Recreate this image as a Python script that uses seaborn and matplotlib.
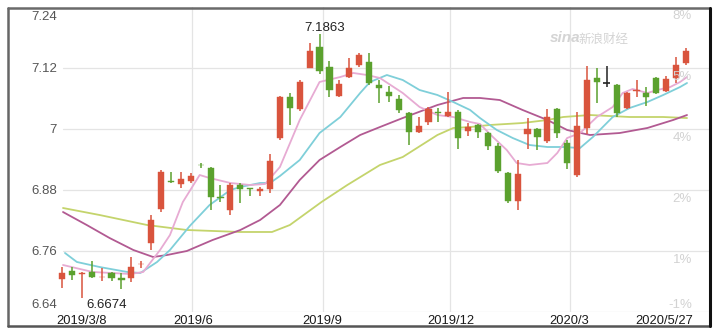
import matplotlib
matplotlib.use("Agg")
import matplotlib.pyplot as plt
from matplotlib.lines import Line2D
import seaborn as sns
import pandas as pd
import numpy as np

# ---------------- data ----------------
opens = [6.7049, 6.7207, 6.7148, 6.7187, 6.7080, 6.7167, 6.7069, 6.7069, 6.7335, 6.7757,
         6.8426, 6.8977, 6.8918, 6.8977, 6.9292, 6.9233, 6.8672, 6.8407, 6.8898, 6.8825,
         6.8790, 6.8820, 6.9823, 7.0630, 7.0393, 7.1200, 7.1613, 7.1220, 7.0649, 7.1023,
         7.1259, 7.1318, 7.0866, 7.0728, 7.0590, 7.0315, 6.9941, 7.0138, 7.0344, 7.0256,
         7.0334, 6.9961, 7.0079, 6.9921, 6.9666, 6.9134, 6.8584, 6.9902, 7.0000, 6.9764,
         7.0393, 6.9725, 6.9095, 7.0020, 7.1003, 7.0905, 7.0866, 7.0413, 7.0738, 7.0708,
         7.1003, 7.0748, 7.1003, 7.1298]
highs = [6.7285, 6.7285, 6.7187, 6.7403, 6.7266, 6.7187, 6.7167, 6.7482, 6.7403, 6.8308,
         6.9193, 6.9154, 6.9154, 6.9134, 6.9331, 6.9252, 6.8898, 6.8938, 6.8938, 6.8839,
         6.8859, 6.9508, 7.0649, 7.0708, 7.0964, 7.1692, 7.1863, 7.1338, 7.0964, 7.1397,
         7.1495, 7.1495, 7.0964, 7.0846, 7.0669, 7.0334, 7.0236, 7.0433, 7.0413, 7.0728,
         7.0374, 7.0118, 7.0098, 6.9941, 6.9725, 6.9154, 6.9390, 7.0216, 7.0020, 7.0393,
         7.0413, 6.9784, 7.0334, 7.1239, 7.1200, 7.1239, 7.0885, 7.0728, 7.0964, 7.0826,
         7.1023, 7.1043, 7.1416, 7.1593]
lows = [6.6872, 6.7030, 6.6674, 6.7069, 6.7010, 6.7010, 6.6852, 6.6990, 6.7266, 6.7620,
        6.8367, 6.8938, 6.8839, 6.8938, 6.9233, 6.8407, 6.8564, 6.8308, 6.8544, 6.8682,
        6.8682, 6.8741, 6.9784, 7.0079, 7.0354, 7.1200, 7.1082, 7.0630, 7.0630, 7.1003,
        7.1220, 7.0866, 7.0511, 7.0531, 7.0315, 6.9685, 6.9921, 7.0079, 7.0138, 7.0236,
        6.9607, 6.9862, 6.9823, 6.9587, 6.9134, 6.8544, 6.8407, 6.9607, 6.9587, 6.9725,
        6.9823, 6.9213, 6.9056, 6.9902, 7.0511, 7.0826, 7.0236, 7.0393, 7.0630, 7.0452,
        7.0689, 7.0728, 7.0905, 7.1259]
closes = [6.7167, 6.7128, 6.7167, 6.7089, 6.7095, 6.7069, 6.7030, 6.7285, 6.7345, 6.8210,
          6.9154, 6.8967, 6.9016, 6.9075, 6.9282, 6.8662, 6.8652, 6.8898, 6.8820, 6.8815,
          6.8810, 6.9371, 7.0630, 7.0413, 7.0925, 7.1534, 7.1141, 7.0767, 7.0885, 7.1200,
          7.1456, 7.0905, 7.0807, 7.0649, 7.0374, 6.9941, 7.0059, 7.0393, 7.0324, 7.0334,
          6.9823, 7.0039, 6.9941, 6.9666, 6.9174, 6.8584, 6.9115, 7.0000, 6.9843, 7.0236,
          6.9921, 6.9331, 7.0059, 7.0964, 7.0925, 7.0905, 7.0315, 7.0708, 7.0758, 7.0630,
          7.0708, 7.0984, 7.1259, 7.1534]

ma5_x = [0.1, 3.1, 6.9, 8.2, 9.9, 10.9, 12.2, 13.9, 14.9, 17.0, 19.0, 20.5, 22.0, 24.0, 26.0,
         28.1, 29.4, 30.8, 32.1, 34.4, 36.1, 37.9, 39.5, 41.2, 42.2, 43.5, 44.9, 45.9, 47.2,
         49.0, 50.0, 51.0, 52.3, 54.0, 55.6, 56.6, 57.6, 59.1, 60.1, 61.4, 62.4, 63.1]
ma5_y = [6.7325, 6.7187, 6.7148, 6.7187, 6.7620, 6.7915, 6.8564, 6.9095, 6.9036, 6.8938,
         6.8898, 6.8918, 6.9252, 7.0177, 7.0925, 7.1023, 7.1102, 7.1062, 7.1003, 7.0708,
         7.0433, 7.0275, 7.0236, 7.0138, 7.0098, 6.9843, 6.9587, 6.9331, 6.9292, 6.9331,
         6.9528, 6.9823, 6.9921, 7.0236, 7.0433, 7.0708, 7.0787, 7.0708, 7.0767, 7.0826,
         7.0925, 7.1023]

ma10_x = [0.3, 1.5, 3.8, 6.6, 7.9, 9.6, 10.9, 12.9, 14.9, 17.0, 18.0, 20.0, 21.0, 22.0, 24.0,
          26.0, 28.1, 30.1, 31.1, 32.8, 34.4, 36.1, 37.9, 39.5, 41.2, 42.2, 43.9, 45.5, 47.2,
          49.0, 50.6, 52.3, 53.6, 55.6, 57.3, 59.1, 60.7, 62.4, 63.1]
ma10_y = [6.7561, 6.7384, 6.7285, 6.7187, 6.7167, 6.7384, 6.7620, 6.8092, 6.8505, 6.8800,
          6.8859, 6.8938, 6.8938, 6.9075, 6.9390, 6.9921, 7.0236, 7.0708, 7.0925, 7.1062,
          7.0964, 7.0767, 7.0669, 7.0531, 7.0374, 7.0216, 6.9980, 6.9823, 6.9685, 6.9646,
          6.9646, 6.9626, 6.9843, 7.0236, 7.0413, 7.0531, 7.0669, 7.0826, 7.0905]

ma20_x = [0.1, 2.5, 4.8, 7.2, 9.2, 10.6, 12.6, 15.2, 18.0, 20.0, 22.0, 24.0, 26.0, 28.1, 30.1,
          32.1, 34.4, 37.9, 40.5, 42.2, 44.2, 46.5, 49.0, 51.0, 53.3, 56.3, 59.1, 61.7, 63.1]
ma20_y = [6.8367, 6.8111, 6.7856, 6.7620, 6.7482, 6.7521, 6.7600, 6.7816, 6.8013, 6.8210,
          6.8505, 6.8997, 6.9390, 6.9646, 6.9882, 7.0039, 7.0216, 7.0472, 7.0610, 7.0610,
          7.0570, 7.0374, 7.0177, 6.9980, 6.9882, 6.9921, 7.0020, 7.0177, 7.0275]

ma30_x = [0.1, 3.8, 8.6, 12.6, 18.0, 21.2, 23.0, 26.2, 28.8, 32.1, 34.4, 37.9, 39.5, 41.2,
          43.2, 46.5, 49.0, 50.6, 53.3, 57.3, 60.7, 63.1]
ma30_y = [6.8446, 6.8308, 6.8111, 6.8013, 6.7974, 6.7974, 6.8111, 6.8564, 6.8898, 6.9292,
          6.9449, 6.9882, 7.0020, 7.0039, 7.0079, 7.0118, 7.0177, 7.0236, 7.0275, 7.0236,
          7.0236, 7.0216]

y_ticks = [7.24, 7.12, 7.0, 6.88, 6.76, 6.64]
y_tick_labels = ["7.24", "7.12", "7", "6.88", "6.76", "6.64"]
right_labels = ["8%", "5%", "4%", "2%", "1%", "-1%"]
date_labels = ["2019/3/8", "2019/6", "2019/9", "2019/12", "2020/3", "2020/5/27"]
date_pos = [2.0, 13.2, 26.3, 39.3, 51.2, 60.8]
grid_x = [13.1, 26.3, 39.2, 51.3]
high_label = "7.1863"
low_label = "6.6674"

# ---------------- figure ----------------
sns.set_theme(style="white")
plt.rcParams['font.family'] = ['Liberation Sans', 'DejaVu Sans']

W, H = 720, 334
fig = plt.figure(figsize=(7.2, 3.34), dpi=100)
fig.patch.set_facecolor("white")

def fx(px):
    return px / W

def fy(py):
    return 1 - py / H

ax = fig.add_axes([fx(8), fy(312), fx(710) - fx(8), fy(7) - fy(312)])
ax.set_facecolor("white")
ax.set_xlim(-5.452, 65.42)
ax.set_ylim(6.64, 7.24)
for s in ax.spines.values():
    s.set_visible(False)
ax.set_xticks([])
ax.set_yticks([])

grid_c = "#e4e4e4"
x_grid_start = (63 - 62) / 9.905
for v in y_ticks[1:]:
    ax.plot([x_grid_start, 65.42], [v, v], color=grid_c, lw=0.9, zorder=0)
for gx in grid_x:
    ax.plot([gx, gx], [6.64, 7.24], color=grid_c, lw=0.9, zorder=0)

# moving averages
ma_specs = [(ma30_x, ma30_y, "#c4d46c"), (ma20_x, ma20_y, "#b25a92"),
            (ma10_x, ma10_y, "#7fcfd9"), (ma5_x, ma5_y, "#e7abd3")]
for xs, ys, c in ma_specs:
    sns.lineplot(x=xs, y=ys, ax=ax, color=c, lw=1.3, sort=False, estimator=None, zorder=2)

# candles
red, green, black = "#d9543d", "#5ba12e", "#222222"
idx = np.arange(len(opens))
for i, o, h, l, c in zip(idx, opens, highs, lows, closes):
    if c > o:
        col = red
    elif c < o:
        col = green
    else:
        col = black
    ax.vlines(i, l, h, color=col, lw=1.1, zorder=3)
    bottom = min(o, c)
    height = max(abs(c - o), 0.0016)
    if col == black:
        ax.hlines(o, i - 0.35, i + 0.35, color=col, lw=1.2, zorder=4)
    else:
        ax.bar(i, height, bottom=bottom, width=0.62, color=col, edgecolor=col,
               lw=0.3, zorder=4)

ax.set_xlabel("")
ax.set_ylabel("")
if ax.get_legend():
    ax.get_legend().remove()

# left labels
left_py = [17, 69, 130, 191, 252, 305]
for lab, py in zip(y_tick_labels, left_py):
    fig.text(fx(57), fy(py), lab, ha="right", va="center", fontsize=9.5, color="#555555")

# right labels
right_py = [16, 77, 138, 199, 260, 305]
for lab, py in zip(right_labels, right_py):
    fig.text(fx(692), fy(py), lab, ha="right", va="center", fontsize=9.5, color="#d2d2d2",
             zorder=1)

# date labels
for lab, pos in zip(date_labels, date_pos):
    px = 62 + pos * 9.905
    fig.text(fx(px), fy(321), lab, ha="center", va="center", fontsize=9.3, color="#1a1a1a")

# annotations
fig.text(fx(325), fy(28), high_label, ha="center", va="center", fontsize=9.5, color="#222222")
fig.text(fx(107), fy(305), low_label, ha="center", va="center", fontsize=9.5, color="#222222")

# watermark
fig.text(fx(550), fy(38), "sina", ha="left", va="center", fontsize=11, color="#d4d4d4",
         style="italic", weight="bold")
fig.text(fx(578), fy(39), "新浪财经", ha="left", va="center", fontsize=9,
         color="#d4d4d4", family=["Noto Sans CJK SC", "DejaVu Sans"])

# frame
fig.add_artist(Line2D([fx(8), fx(8)], [fy(8), fy(326)], transform=fig.transFigure,
                      color="#666666", lw=1.8))
fig.add_artist(Line2D([fx(8), fx(710)], [fy(8), fy(8)], transform=fig.transFigure,
                      color="#6a6a6a", lw=1.8))
fig.add_artist(Line2D([fx(8), fx(710)], [fy(326), fy(326)], transform=fig.transFigure,
                      color="#555555", lw=1.8))
fig.add_artist(Line2D([fx(710), fx(710)], [fy(8), fy(326)], transform=fig.transFigure,
                      color="#111111", lw=2.2))

fig.savefig("out.png", dpi=100, facecolor="white")
